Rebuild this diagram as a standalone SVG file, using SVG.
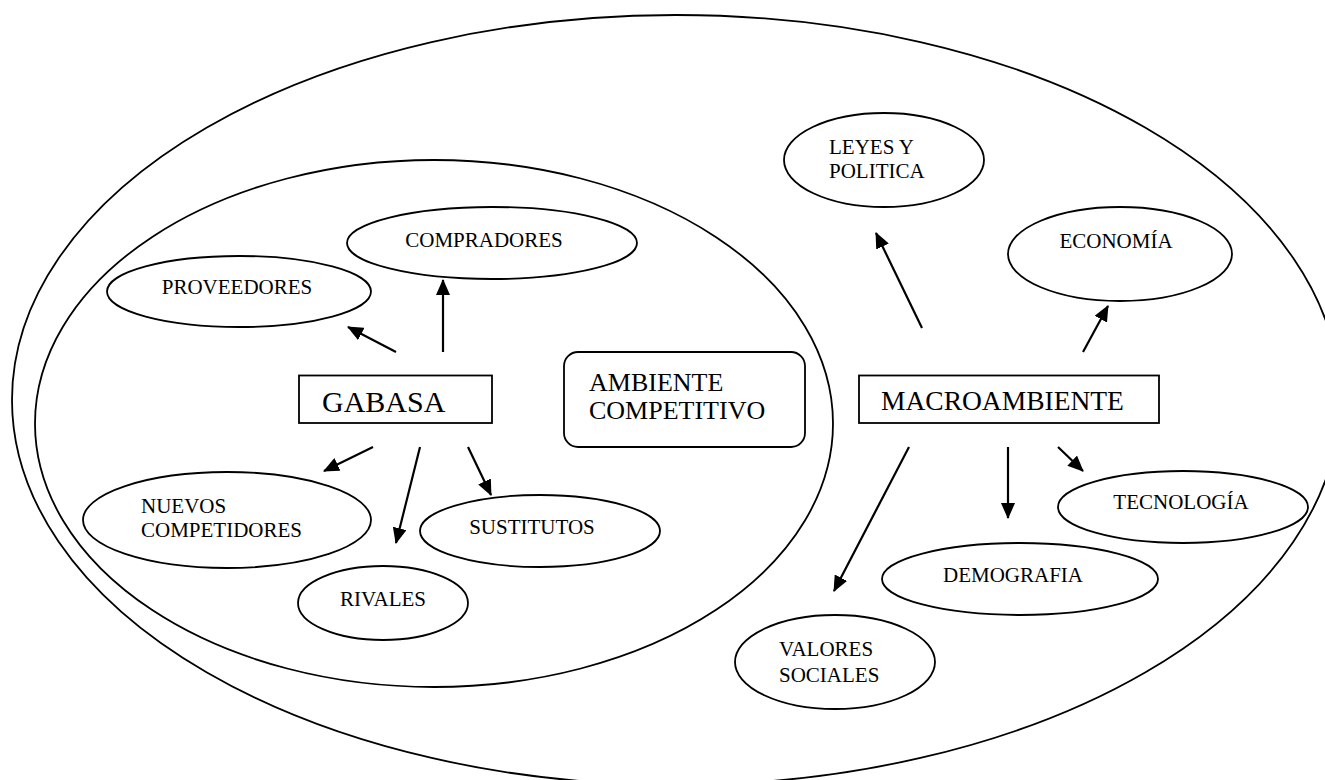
<svg xmlns="http://www.w3.org/2000/svg" width="1325" height="780" viewBox="0 0 1325 780">
<style>
.e{fill:none;stroke:#000;stroke-width:1.8}
.c line{stroke:#000;stroke-width:2.2;marker-end:url(#ah)}
</style>
<defs>
<marker id="ah" markerUnits="userSpaceOnUse" markerWidth="16" markerHeight="14" viewBox="0 0 16 14" refX="15" refY="7" orient="auto">
<path d="M0,0 L16,7 L0,14 Z" fill="#000"/>
</marker>
<clipPath id="gclip"><rect x="299" y="393" width="193" height="30"/></clipPath>
</defs>
<rect width="1325" height="780" fill="#fff"/>
<g id="macroambiente-area"><ellipse class="e" cx="676" cy="400" rx="664" ry="385"/></g>
<g id="competitivo-area"><ellipse class="e" cx="434" cy="423.5" rx="399" ry="263.5"/></g>
<g font-family="Liberation Serif, Times New Roman, serif" font-size="21" fill="#000">
<g id="compradores"><ellipse class="e" cx="492" cy="243" rx="145" ry="36"/><text x="484" y="247" text-anchor="middle">COMPRADORES</text></g>
<g id="proveedores"><ellipse class="e" cx="239" cy="291.5" rx="132" ry="35.5"/><text x="237" y="294" text-anchor="middle">PROVEEDORES</text></g>
<g id="gabasa"><rect x="299" y="375.5" width="193" height="47.5" fill="#fff" stroke="#000" stroke-width="1.8"/><text x="322" y="412" font-size="30" clip-path="url(#gclip)">GABASA</text></g>
<g id="ambiente-competitivo"><rect x="564" y="352" width="241" height="95" rx="14" fill="#fff" stroke="#000" stroke-width="1.8"/><text x="589" y="391" font-size="26">AMBIENTE</text><text x="589" y="419" font-size="26">COMPETITIVO</text></g>
<g id="macroambiente"><rect x="859" y="375.5" width="300" height="47.5" fill="#fff" stroke="#000" stroke-width="1.8"/><text x="881" y="410" font-size="27.5">MACROAMBIENTE</text></g>
<g id="leyes"><ellipse class="e" cx="884" cy="160" rx="100" ry="47"/><text x="829" y="154">LEYES Y</text><text x="829" y="178">POLITICA</text></g>
<g id="economia"><ellipse class="e" cx="1120" cy="254" rx="112" ry="47"/><text x="1116" y="248" text-anchor="middle">ECONOMÍA</text></g>
<g id="tecnologia"><ellipse class="e" cx="1183" cy="507" rx="125" ry="36"/><text x="1181" y="509" text-anchor="middle">TECNOLOGÍA</text></g>
<g id="demografia"><ellipse class="e" cx="1020" cy="579" rx="138" ry="36"/><text x="1013" y="582" text-anchor="middle">DEMOGRAFIA</text></g>
<g id="valores-sociales"><ellipse class="e" cx="835" cy="662" rx="100" ry="47"/><text x="779" y="656">VALORES</text><text x="779" y="682">SOCIALES</text></g>
<g id="nuevos-competidores"><ellipse class="e" cx="227" cy="520" rx="144" ry="48"/><text x="141" y="513">NUEVOS</text><text x="141" y="537">COMPETIDORES</text></g>
<g id="sustitutos"><ellipse class="e" cx="540" cy="531" rx="120" ry="36"/><text x="532" y="534" text-anchor="middle">SUSTITUTOS</text></g>
<g id="rivales"><ellipse class="e" cx="383" cy="603" rx="85" ry="37"/><text x="383" y="606" text-anchor="middle">RIVALES</text></g>
</g>
<g id="connectors" class="c">
<line x1="396" y1="352" x2="348" y2="327"/>
<line x1="443" y1="352" x2="443" y2="280"/>
<line x1="373" y1="447" x2="324" y2="471"/>
<line x1="420" y1="447" x2="396" y2="543"/>
<line x1="468" y1="447" x2="491" y2="495"/>
<line x1="922" y1="328" x2="876" y2="233"/>
<line x1="1083" y1="352" x2="1108" y2="306"/>
<line x1="909" y1="447" x2="834" y2="591"/>
<line x1="1008" y1="447" x2="1008" y2="518"/>
<line x1="1058" y1="447" x2="1083" y2="471"/>
</g>
</svg>
